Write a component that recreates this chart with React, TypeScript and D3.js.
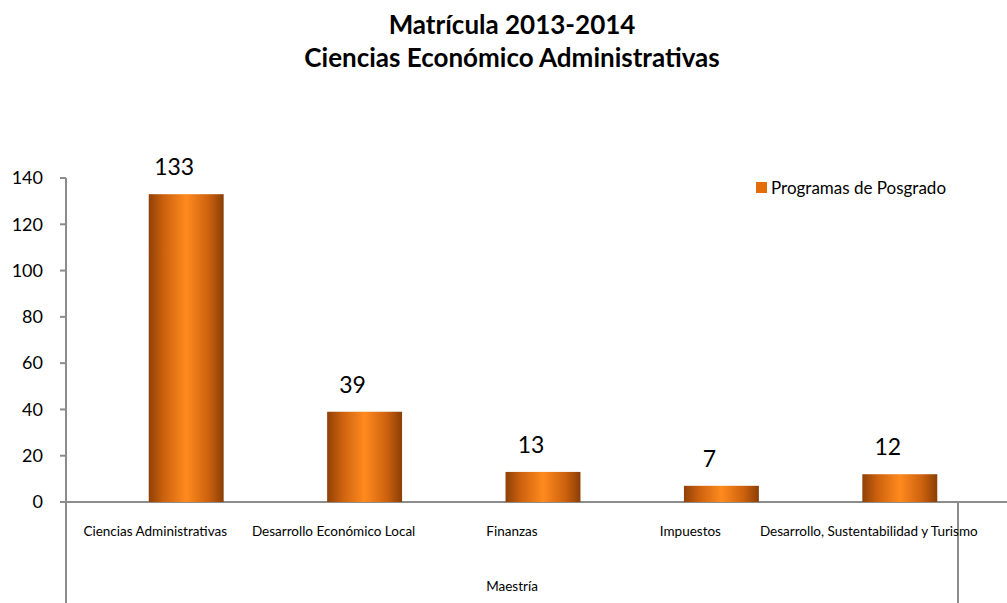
import React from 'react';
import * as d3 from 'd3';

const categories = [
  'Ciencias Administrativas',
  'Desarrollo Económico Local',
  'Finanzas',
  'Impuestos',
  'Desarrollo, Sustentabilidad y Turismo',
];
const values = [133, 39, 13, 7, 12];
const yTicks = [0, 20, 40, 60, 80, 100, 120, 140];
const groupLabel = 'Maestría';
const seriesName = 'Programas de Posgrado';
const titleLines = ['Matrícula 2013-2014', 'Ciencias Económico Administrativas'];

const width = 1007;
const height = 603;
const font = 'Lato, "Noto Sans", sans-serif';
const axisColor = '#8c8c8c';

const App: React.FC = () => {
  const x = d3.scaleBand<string>().domain(categories).range([66, 958]).padding(0);
  const y = d3.scaleLinear().domain([0, 140]).range([502, 178]);
  const barWidth = x.bandwidth() * 0.42;
  // bars sit a bit right of the category centres, as in the original
  const barShift = 31;
  const labelShift = -12;

  return (
    <svg width={width} height={height} style={{ display: 'block', position: 'absolute', left: 0, top: 0 }}>
      <defs>
        <linearGradient id="barGrad" x1="0" x2="1" y1="0" y2="0">
          <stop offset="0%" stopColor="#8f4107" />
          <stop offset="20%" stopColor="#cc610e" />
          <stop offset="50%" stopColor="#ff8a1e" />
          <stop offset="80%" stopColor="#cc610e" />
          <stop offset="100%" stopColor="#8a3e06" />
        </linearGradient>
      </defs>
      <rect width={width} height={height} fill="#fff" />

      {/* title */}
      {titleLines.map((t, i) => (
        <text key={t} x={512} y={34 + i * 33} textAnchor="middle" fontFamily={font}
          fontWeight="bold" fontSize={26} fill="#000">{t}</text>
      ))}

      {/* axes */}
      <line x1={66} x2={66} y1={y(140)} y2={height} stroke={axisColor} strokeWidth={2} />
      <line x1={60} x2={width} y1={y(0)} y2={y(0)} stroke={axisColor} strokeWidth={2} />
      <line x1={958} x2={958} y1={y(0)} y2={height} stroke={axisColor} strokeWidth={2} />
      {yTicks.map(t => (
        <g key={t}>
          <line x1={60} x2={66} y1={y(t)} y2={y(t)} stroke={axisColor} strokeWidth={2} />
          <text x={43} y={y(t)} dy="0.35em" textAnchor="end" fontFamily={font} fontSize={18} fill="#000">{t}</text>
        </g>
      ))}

      {/* bars */}
      {categories.map((c, i) => {
        const cx = (x(c) ?? 0) + x.bandwidth() / 2;
        return (
          <g key={c}>
            <rect x={cx + barShift - barWidth / 2} y={y(values[i])} width={barWidth}
              height={y(0) - y(values[i])} fill="url(#barGrad)" />
            <text x={cx + barShift + labelShift} y={y(values[i]) - 19} textAnchor="middle"
              fontFamily={font} fontSize={23} fill="#000">{values[i]}</text>
            <text x={cx} y={536} textAnchor="middle" fontFamily={font} fontSize={13.5} fill="#000">{c}</text>
          </g>
        );
      })}
      <text x={512} y={591} textAnchor="middle" fontFamily={font} fontSize={13.5} fill="#000">{groupLabel}</text>

      {/* legend */}
      <rect x={756} y={182} width={11} height={11} fill="#e46c0a" />
      <text x={771} y={194} fontFamily={font} fontSize={17} fill="#000">{seriesName}</text>
    </svg>
  );
};

export default App;
